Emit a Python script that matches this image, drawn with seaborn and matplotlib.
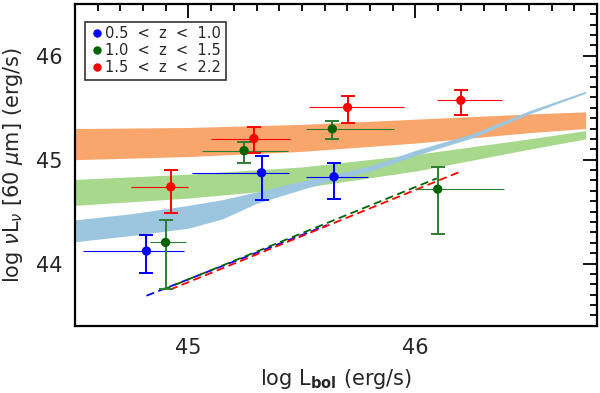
import numpy as np
import pandas as pd
import matplotlib
matplotlib.use('Agg')
import matplotlib.pyplot as plt
from matplotlib.ticker import MultipleLocator
import seaborn as sns

# --- data ---
z_bins = ['0.5  <  z  <  1.0', '1.0  <  z  <  1.5', '1.5  <  z  <  2.2']
colors = ['#0000ff', '#006400', '#ff0000']
bar_colors = ['#0000ff', '#2e7d32', '#ff0000']

blue_x = [44.815, 45.322, 45.641]
blue_y = [44.12, 44.874, 44.835]
blue_ylo = [43.91, 44.61, 44.62]
blue_yhi = [44.27, 45.04, 44.97]
blue_xlo = [44.535, 45.015, 45.52]
blue_xhi = [44.98, 45.445, 45.79]

green_x = [44.899, 45.245, 45.634, 46.098]
green_y = [44.203, 45.087, 45.297, 44.716]
green_ylo = [43.75, 44.97, 45.20, 44.285]
green_yhi = [44.415, 45.17, 45.37, 44.93]
green_xlo = [44.83, 45.06, 45.517, 46.0]
green_xhi = [44.99, 45.44, 45.907, 46.39]

red_x = [44.922, 45.288, 45.701, 46.20]
red_y = [44.738, 45.203, 45.503, 45.571]
red_ylo = [44.484, 45.06, 45.35, 45.43]
red_yhi = [44.898, 45.31, 45.61, 45.67]
red_xlo = [44.748, 45.10, 45.532, 46.094]
red_xhi = [44.998, 45.447, 45.95, 46.383]

# dashed relations (start / end points)
blue_dash_x = [44.815, 45.611]
blue_dash_y = [43.69, 44.37]
green_dash_x = [44.888, 46.094]
green_dash_y = [43.748, 44.82]
red_dash_x = [44.918, 46.197]
red_dash_y = [43.748, 44.884]

# shaded bands
orange_band_x = [44.5, 45.0, 45.5, 46.0, 46.5, 46.75]
orange_band_lo = [45.00, 45.03, 45.08, 45.16, 45.26, 45.30]
orange_band_hi = [45.30, 45.31, 45.34, 45.39, 45.44, 45.46]

green_band_x = [44.5, 45.0, 45.5, 46.0, 46.5, 46.75]
green_band_lo = [44.56, 44.63, 44.73, 44.89, 45.10, 45.20]
green_band_hi = [44.81, 44.86, 44.93, 45.05, 45.20, 45.28]

blue_band_x = [44.5, 44.75, 45.0, 45.15, 45.3, 45.45, 45.6, 45.8, 46.0, 46.25, 46.5, 46.75]
blue_band_lo = [44.21, 44.27, 44.34, 44.43, 44.58, 44.68, 44.78, 44.89, 45.04, 45.21, 45.44, 45.64]
blue_band_hi = [44.42, 44.48, 44.56, 44.615, 44.69, 44.77, 44.84, 44.94, 45.09, 45.25, 45.47, 45.66]

sns.set_theme(style='white')
plt.rcParams['font.family'] = ['DejaVu Sans']
plt.rcParams['mathtext.fontset'] = 'dejavusans'

fig = plt.figure(figsize=(6, 3.93), dpi=100)
ax = fig.add_axes([0.125, 0.171, 0.87, 0.819])

ax.fill_between(orange_band_x, orange_band_lo, orange_band_hi, color='#f9a66c', lw=0)
ax.fill_between(green_band_x, green_band_lo, green_band_hi, color='#a8d88c', lw=0)
ax.fill_between(blue_band_x, blue_band_lo, blue_band_hi, color='#9cc5e0', lw=0)

dash = dict(lw=1.3, dashes=(4.5, 2.5))
ax.plot(blue_dash_x, blue_dash_y, color='#0000ff', **dash)
ax.plot(green_dash_x, green_dash_y, color='#006400', **dash)
ax.plot(red_dash_x, red_dash_y, color='#ff0000', **dash)

groups = [
    (blue_x, blue_y, blue_ylo, blue_yhi, blue_xlo, blue_xhi),
    (green_x, green_y, green_ylo, green_yhi, green_xlo, green_xhi),
    (red_x, red_y, red_ylo, red_yhi, red_xlo, red_xhi),
]
rows = []
for label, bc, (x, y, ylo, yhi, xlo, xhi) in zip(z_bins, bar_colors, groups):
    x = np.array(x); y = np.array(y)
    xerr = [x - np.array(xlo), np.array(xhi) - x]
    yerr = [y - np.array(ylo), np.array(yhi) - y]
    ax.errorbar(x, y, xerr=xerr, fmt='none', ecolor=bc, elinewidth=0.8, capsize=0)
    ax.errorbar(x, y, yerr=yerr, fmt='none', ecolor=bc, elinewidth=1.4,
                capsize=5, capthick=1.4)
    for xi, yi in zip(x, y):
        rows.append({'lbol': xi, 'l60': yi, 'zbin': label})

df = pd.DataFrame(rows)
sns.scatterplot(data=df, x='lbol', y='l60', hue='zbin', hue_order=z_bins,
                palette=colors, s=45, edgecolor='none', ax=ax, zorder=5)

leg = ax.legend(loc='upper left', bbox_to_anchor=(0.019, 0.945), borderaxespad=0,
                fontsize=10.5, frameon=True, fancybox=False, handletextpad=0.1,
                handlelength=1.0, borderpad=0.3, labelspacing=0.15, markerscale=0.9)
leg.get_frame().set_edgecolor('black')
leg.get_frame().set_linewidth(1.2)

ax.set_xlim(44.5, 46.8)
ax.set_ylim(43.4, 46.5)
ax.xaxis.set_major_locator(MultipleLocator(1))
ax.xaxis.set_minor_locator(MultipleLocator(0.1))
ax.yaxis.set_major_locator(MultipleLocator(1))
ax.yaxis.set_minor_locator(MultipleLocator(0.1))
ax.tick_params(which='both', direction='in', top=True, right=True, width=1.3,
               labelsize=15, color='black')
ax.tick_params(which='major', length=10, pad=9)
ax.tick_params(which='minor', length=5)
for s in ax.spines.values():
    s.set_linewidth(1.6)
    s.set_color('black')

ax.set_xlabel(r'log L$_{\mathbf{bol}}$ (erg/s)', fontsize=15, labelpad=6)
ax.set_ylabel(r'log $\nu$L$_{\nu}$ [60 $\mu$m] (erg/s)', fontsize=15, labelpad=8)

fig.savefig('out.png', dpi=100)
